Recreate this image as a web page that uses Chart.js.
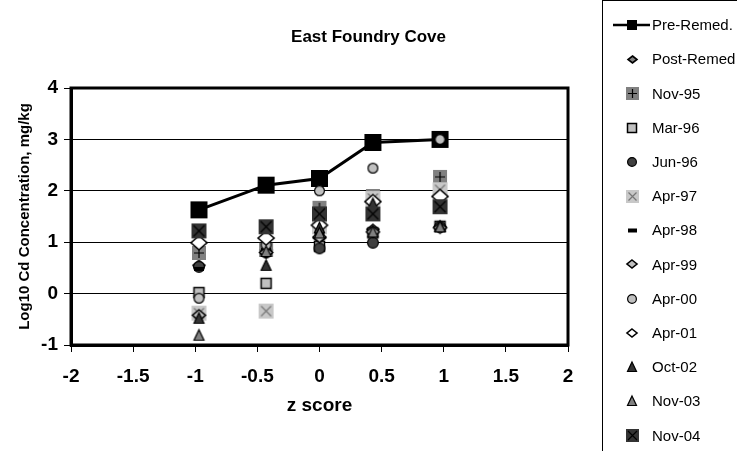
<!DOCTYPE html>
<html>
<head>
<meta charset="utf-8">
<script src="https://cdn.jsdelivr.net/npm/chart.js@4.4.1/dist/chart.umd.min.js"></script>
<style>
  html, body { margin: 0; padding: 0; background: #fff; }
  #wrap { width: 737px; height: 451px; position: relative; }
</style>
</head>
<body>
<div id="wrap"><canvas id="chart"></canvas></div>
<script>
// z scores of the five sampling stations
const zScores = [-0.97, -0.43, 0, 0.43, 0.97];

// log10 Cd, mg/kg
const preRemed  = [1.63, 2.11, 2.24, 2.94, 3.00];
const postRemed = [0.55, 0.85, 1.08, 1.25, 1.30];
const nov95 = [0.79, 0.85, 1.67, 1.90, 2.27];
const mar96 = [0.02, 0.20, 0.92, 1.18, 1.31];
const jun96 = [0.52, 0.80, 0.88, 0.99, 1.30];
const apr97 = [-0.38, -0.34, 1.30, 1.85, 2.02];
const apr98 = [0.48, 0.85, 1.15, 1.55, 1.85];
const apr99 = [-0.42, 0.80, 1.10, 1.20, 1.28];
const apr00 = [-0.09, 0.95, 2.00, 2.44, 3.00];
const apr01 = [0.99, 1.08, 1.33, 1.79, 1.89];
const oct02 = [-0.48, 0.55, 1.28, 1.75, 1.30];
const nov03 = [-0.81, 0.82, 1.18, 1.20, 1.30];
const nov04 = [1.22, 1.30, 1.55, 1.55, 1.69];

const seriesNames = ['Pre-Remed.', 'Post-Remed', 'Nov-95', 'Mar-96', 'Jun-96', 'Apr-97', 'Apr-98',
  'Apr-99', 'Apr-00', 'Apr-01', 'Oct-02', 'Nov-03', 'Nov-04'];
const seriesValues = [preRemed, postRemed, nov95, mar96, jun96, apr97, apr98,
  apr99, apr00, apr01, oct02, nov03, nov04];

const xTicks = [-2, -1.5, -1, -0.5, 0, 0.5, 1, 1.5, 2];
const yTicks = [-1, 0, 1, 2, 3, 4];

// marker kind + size in plot / size in legend
const markerStyle = [
  { kind: 'blackSquare', size: 17, legend: 10 },
  { kind: 'diamondGray', size: 12, legend: 9 },
  { kind: 'squarePlus', size: 14, legend: 13 },
  { kind: 'squareLight', size: 11, legend: 10 },
  { kind: 'circleDark', size: 12, legend: 10 },
  { kind: 'squareXLight', size: 15, legend: 13 },
  { kind: 'dash', size: 10, legend: 9 },
  { kind: 'diamondLight', size: 13, legend: 10 },
  { kind: 'circleLight', size: 11, legend: 10 },
  { kind: 'diamondWhite', size: 16, legend: 10 },
  { kind: 'triDark', size: 11, legend: 10 },
  { kind: 'triGray', size: 11, legend: 10 },
  { kind: 'squareXDark', size: 15, legend: 13 }
];

function makeMarker(kind, s) {
  const pad = 2;
  const c = document.createElement('canvas');
  c.width = s + pad * 2;
  c.height = s + pad * 2;
  const g = c.getContext('2d');
  const m = pad, e = pad + s, mid = pad + s / 2;
  g.lineWidth = 1.2;
  g.strokeStyle = '#000';
  const diamond = (fill) => {
    g.beginPath();
    g.moveTo(mid, m + 1); g.lineTo(e, mid); g.lineTo(mid, e - 1); g.lineTo(m, mid); g.closePath();
    g.fillStyle = fill; g.fill(); g.lineWidth = 1.6; g.stroke();
  };
  const tri = (fill) => {
    g.beginPath();
    g.moveTo(mid, m); g.lineTo(e - 0.5, e - 0.5); g.lineTo(m + 0.5, e - 0.5); g.closePath();
    g.fillStyle = fill; g.fill(); g.stroke();
  };
  const circle = (fill) => {
    g.beginPath(); g.arc(mid, mid, s / 2 - 0.6, 0, Math.PI * 2);
    g.fillStyle = fill; g.fill(); g.stroke();
  };
  const cross = (color, inset, rot) => {
    g.strokeStyle = color; g.lineWidth = 1.2;
    g.beginPath();
    if (rot) {
      g.moveTo(m + inset, m + inset); g.lineTo(e - inset, e - inset);
      g.moveTo(e - inset, m + inset); g.lineTo(m + inset, e - inset);
    } else {
      g.moveTo(mid, m + inset); g.lineTo(mid, e - inset);
      g.moveTo(m + inset, mid); g.lineTo(e - inset, mid);
    }
    g.stroke();
  };
  switch (kind) {
    case 'blackSquare':
      g.fillStyle = '#000'; g.fillRect(m, m, s, s); break;
    case 'diamondGray': diamond('#808080'); break;
    case 'diamondLight': diamond('#c0c0c0'); break;
    case 'diamondWhite': diamond('#ffffff'); break;
    case 'squarePlus':
      g.fillStyle = '#808080'; g.fillRect(m, m, s, s); cross('#000', 2, false); break;
    case 'squareLight':
      g.fillStyle = '#c0c0c0'; g.fillRect(m + 0.5, m + 0.5, s - 1, s - 1);
      g.lineWidth = 1.5; g.strokeRect(m + 0.5, m + 0.5, s - 1, s - 1); break;
    case 'circleDark': circle('#404040'); break;
    case 'circleLight': circle('#c0c0c0'); break;
    case 'squareXLight':
      g.fillStyle = '#c8c8c8'; g.fillRect(m, m, s, s); cross('#777', 2.5, true); break;
    case 'squareXDark':
      g.fillStyle = '#333333'; g.fillRect(m, m, s, s); cross('#000', 2, true); break;
    case 'dash':
      g.fillStyle = '#000'; g.fillRect(m, mid - 2, s, 4); break;
    case 'triDark': tri('#333333'); break;
    case 'triGray': tri('#808080'); break;
  }
  return c;
}

const plotMarkers = markerStyle.map(ms => makeMarker(ms.kind, ms.size));
const legendMarkers = markerStyle.map(ms => makeMarker(ms.kind, ms.legend));

const datasets = seriesNames.map((name, i) => ({
  label: name,
  data: seriesValues[i].map((v, j) => ({ x: zScores[j], y: v })),
  showLine: i === 0,
  borderColor: '#000',
  borderWidth: 3,
  pointStyle: plotMarkers[i],
  pointRadius: 6,
  pointHoverRadius: 6,
  order: seriesNames.length - i
}));

// plot frame: thick border all round
const framePlugin = {
  id: 'frame',
  beforeDatasetsDraw(chart) {
    const a = chart.chartArea, ctx = chart.ctx;
    ctx.save();
    ctx.strokeStyle = '#000';
    ctx.lineWidth = 3;
    ctx.strokeRect(a.left, a.top, a.right - a.left, a.bottom - a.top);
    ctx.restore();
  }
};

// boxed legend at the right edge
const legendPlugin = {
  id: 'sideLegend',
  afterDraw(chart) {
    const ctx = chart.ctx;
    ctx.save();
    ctx.strokeStyle = '#000';
    ctx.lineWidth = 1;
    ctx.strokeRect(602.5, 0.5, 150, 460);
    ctx.font = '15px "Liberation Sans", Arial, sans-serif';
    ctx.fillStyle = '#000';
    ctx.textBaseline = 'middle';
    seriesNames.forEach((name, i) => {
      const y = 25 + i * 34.2;
      if (i === 0) {
        ctx.lineWidth = 2.5;
        ctx.beginPath(); ctx.moveTo(613, y); ctx.lineTo(650, y); ctx.stroke();
      }
      const mk = legendMarkers[i];
      ctx.drawImage(mk, Math.round(632 - mk.width / 2), Math.round(y - mk.height / 2));
      ctx.fillText(name, 652, y + 1);
    });
    ctx.restore();
  }
};

const boldFont = (size) => ({ family: '"Liberation Sans", Arial, sans-serif', size: size, weight: 'bold' });

new Chart(document.getElementById('chart'), {
  type: 'scatter',
  data: { datasets: datasets },
  options: {
    responsive: true,
    maintainAspectRatio: false,
    animation: false,
    events: [],
    layout: { padding: { left: 0, right: 0, top: 0, bottom: 30 } },
    plugins: {
      legend: { display: false },
      tooltip: { enabled: false },
      title: {
        display: true,
        text: 'East Foundry Cove',
        color: '#000',
        font: boldFont(17),
        padding: { top: 27, bottom: 88 - 27 - 17 * 1.2 }
      }
    },
    scales: {
      x: {
        type: 'linear',
        min: -2,
        max: 2,
        afterBuildTicks: s => { s.ticks = xTicks.map(v => ({ value: v })); },
        afterFit: s => { s.height = 76; },
        ticks: { color: '#000', font: boldFont(19), padding: 13, maxRotation: 0, callback: v => String(v) },
        grid: { drawOnChartArea: false, drawTicks: true, tickLength: 7, color: '#000', lineWidth: 1 },
        border: { display: true, color: '#000', width: 3 },
        title: { display: true, text: 'z score', color: '#000', font: boldFont(19), padding: { top: 4, bottom: 4 } }
      },
      y: {
        min: -1,
        max: 4,
        afterBuildTicks: s => { s.ticks = yTicks.map(v => ({ value: v })); },
        afterFit: s => { s.width = 71; },
        ticks: { color: '#000', font: boldFont(19), padding: 6, callback: v => String(v) },
        grid: { color: '#000', lineWidth: 1, tickLength: 7 },
        border: { display: true, color: '#000', width: 3 },
        title: { display: true, text: 'Log10 Cd Concentration, mg/kg', color: '#000', font: boldFont(15), padding: { top: 16, bottom: 0 } }
      },
      // empty right-hand axis that reserves the legend column
      yRight: {
        position: 'right',
        display: true,
        afterFit: s => { s.width = 169; },
        ticks: { display: false },
        grid: { display: false },
        border: { display: false }
      }
    }
  },
  plugins: [framePlugin, legendPlugin]
});
</script>
</body>
</html>
